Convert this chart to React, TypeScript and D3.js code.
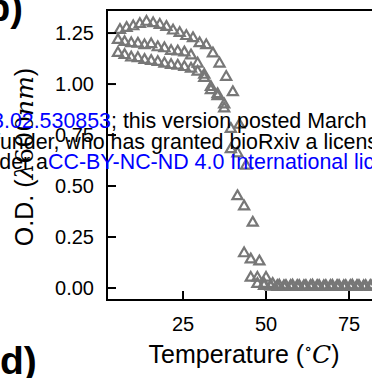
import React from "react";
import * as d3 from "d3";

const W = 372;
const H = 378;

const tempsA = [6, 8, 10, 12, 14, 16, 18, 20, 22, 24, 26, 28, 30, 32, 34, 36, 38, 40, 42, 44, 46, 48, 50, 52, 54, 56, 58, 60, 62, 64, 66, 68, 70, 72, 74, 76, 78, 80, 82, 84];
const odA = [1.265, 1.275, 1.283, 1.294, 1.305, 1.298, 1.29, 1.28, 1.262, 1.25, 1.235, 1.225, 1.2, 1.19, 1.15, 1.1, 1.035, 0.96, 0.8, 0.6, 0.32, 0.13, 0.05, 0.02, 0.012, 0.01, 0.012, 0.01, 0.01, 0.012, 0.01, 0.01, 0.011, 0.01, 0.01, 0.012, 0.01, 0.01, 0.011, 0.01];

const tempsB = [5.4, 7.4, 9.4, 11.4, 13.4, 15.4, 17.4, 19.4, 21.4, 23.4, 25.4, 27.4, 29.4, 31.4, 33.4, 35.4, 37.4, 39.4, 41.4, 43.4, 45.4, 47.4, 49.4, 51.4, 53.4, 55.4, 57.4, 59.4, 61.4, 63.4, 65.4, 67.4, 69.4, 71.4, 73.4, 75.4, 77.4, 79.4, 81.4, 83.4];
const odB = [1.216, 1.206, 1.2, 1.198, 1.19, 1.195, 1.18, 1.175, 1.162, 1.16, 1.155, 1.14, 1.1, 1.045, 0.985, 0.95, 0.9, 0.78, 0.66, 0.4, 0.14, 0.05, 0.02, 0.01, 0.01, 0.008, 0.01, 0.01, 0.009, 0.01, 0.01, 0.008, 0.01, 0.01, 0.009, 0.01, 0.01, 0.008, 0.01, 0.01];
const odC = [1.152, 1.142, 1.13, 1.127, 1.118, 1.113, 1.108, 1.1, 1.093, 1.09, 1.083, 1.075, 1.06, 1.03, 0.97, 0.94, 0.88, 0.68, 0.45, 0.17, 0.05, 0.02, 0.01, 0.006, 0.005, 0.006, 0.005, 0.005, 0.006, 0.005, 0.005, 0.006, 0.005, 0.005, 0.006, 0.005, 0.005, 0.006, 0.005, 0.005];

const yTicks = [0, 0.25, 0.5, 0.75, 1.0, 1.25];
const xTicks = [25, 50, 75];

const FONT = "'Liberation Sans', Arial, Helvetica, sans-serif";
const MARK = "#777777";

export default function App() {
  const x = d3.scaleLinear().domain([2.1, 88]).range([107, 107 + 85.9 * 3.32]);
  const y = d3.scaleLinear().domain([-0.0588, 1.363]).range([300, 10]);
  const tri = d3.symbol().type(d3.symbolTriangle).size(44)() as string;

  const series = [
    { t: tempsA, v: odA },
    { t: tempsB, v: odB },
    { t: tempsB, v: odC },
  ];

  const x0 = x.range()[0];
  const x1 = x.range()[1];
  const y0 = y.range()[0];
  const y1 = y.range()[1];

  return (
    <svg
      width={W}
      height={H}
      viewBox={`0 0 ${W} ${H}`}
      style={{ position: "absolute", left: 0, top: 0, background: "#fff" }}
      fontFamily={FONT}
    >
      <rect x={0} y={0} width={W} height={H} fill="#fff" />
      {/* panel letters */}
      <text x={-13} y={21} fontSize={38} fontWeight="bold" fill="#000">b)</text>
      <text x={0} y={374} fontSize={39} fontWeight="bold" fill="#000">d)</text>

      {/* data */}
      {series.map((s, si) =>
        s.v.map((v, i) => (
          <path
            key={`${si}-${i}`}
            d={tri}
            transform={`translate(${x(s.t[i])},${y(v)})`}
            fill="none"
            stroke={MARK}
            strokeWidth={2.2}
          />
        ))
      )}

      {/* spines */}
      <line x1={x0} x2={x0} y1={y1} y2={y0 + 1} stroke="#000" strokeWidth={2} />
      <line x1={x0 - 1} x2={x1} y1={y0} y2={y0} stroke="#000" strokeWidth={2} />
      <line x1={x0 - 1} x2={x1} y1={y1} y2={y1} stroke="#000" strokeWidth={2} />

      {/* y ticks */}
      {yTicks.map((t) => (
        <g key={`y${t}`}>
          <line x1={x0} x2={x0 + 9} y1={y(t)} y2={y(t)} stroke="#000" strokeWidth={2} />
          <text x={94} y={y(t)} dy="0.36em" textAnchor="end" fontSize={20} fill="#000">
            {t.toFixed(2)}
          </text>
        </g>
      ))}

      {/* x ticks */}
      {xTicks.map((t) => (
        <g key={`x${t}`}>
          <line x1={x(t)} x2={x(t)} y1={y0} y2={y0 - 9} stroke="#000" strokeWidth={2} />
          <text x={x(t)} y={330.5} textAnchor="middle" fontSize={20} fill="#000">
            {t}
          </text>
        </g>
      ))}

      {/* axis labels */}
      <text x={244} y={363} textAnchor="middle" fontSize={25} fill="#000">
        Temperature (
        <tspan fontSize={16} dy={-9} fontFamily="'DejaVu Serif', serif">∘</tspan>
        <tspan dy={9} fontStyle="italic" fontFamily="'DejaVu Serif', serif">C</tspan>)
      </text>
      <text
        transform={`translate(33,157) rotate(-90)`}
        textAnchor="middle"
        fontSize={25}
        fill="#000"
      >
        O.D. (
        <tspan fontStyle="italic" fontFamily="'DejaVu Serif', serif">λ</tspan>
        <tspan fontFamily="'DejaVu Serif', serif">600</tspan>
        <tspan fontStyle="italic" fontFamily="'DejaVu Serif', serif">nm</tspan>)
      </text>

      {/* bioRxiv watermark overlay */}
      <text x={111} y={128} textAnchor="end" fontSize={21.4} fill="#0000ff">
        doi.org/10.1101/2023.03.02.530853
      </text>
      <text x={111} y={128} fontSize={21.4} fill="#000">
        ; this version posted March 3, 2023. The copyright holder
      </text>
      <text x={-6} y={148.5} fontSize={21.4} fill="#000">
        funder, who has granted bioRxiv a license to display the preprint
      </text>
      <text x={48} y={169} textAnchor="end" fontSize={21.4} fill="#000">
        It is made available under a
      </text>
      <text x={48} y={169} fontSize={21.4} fill="#0000ff">
        CC-BY-NC-ND 4.0 International license.
      </text>
    </svg>
  );
}
